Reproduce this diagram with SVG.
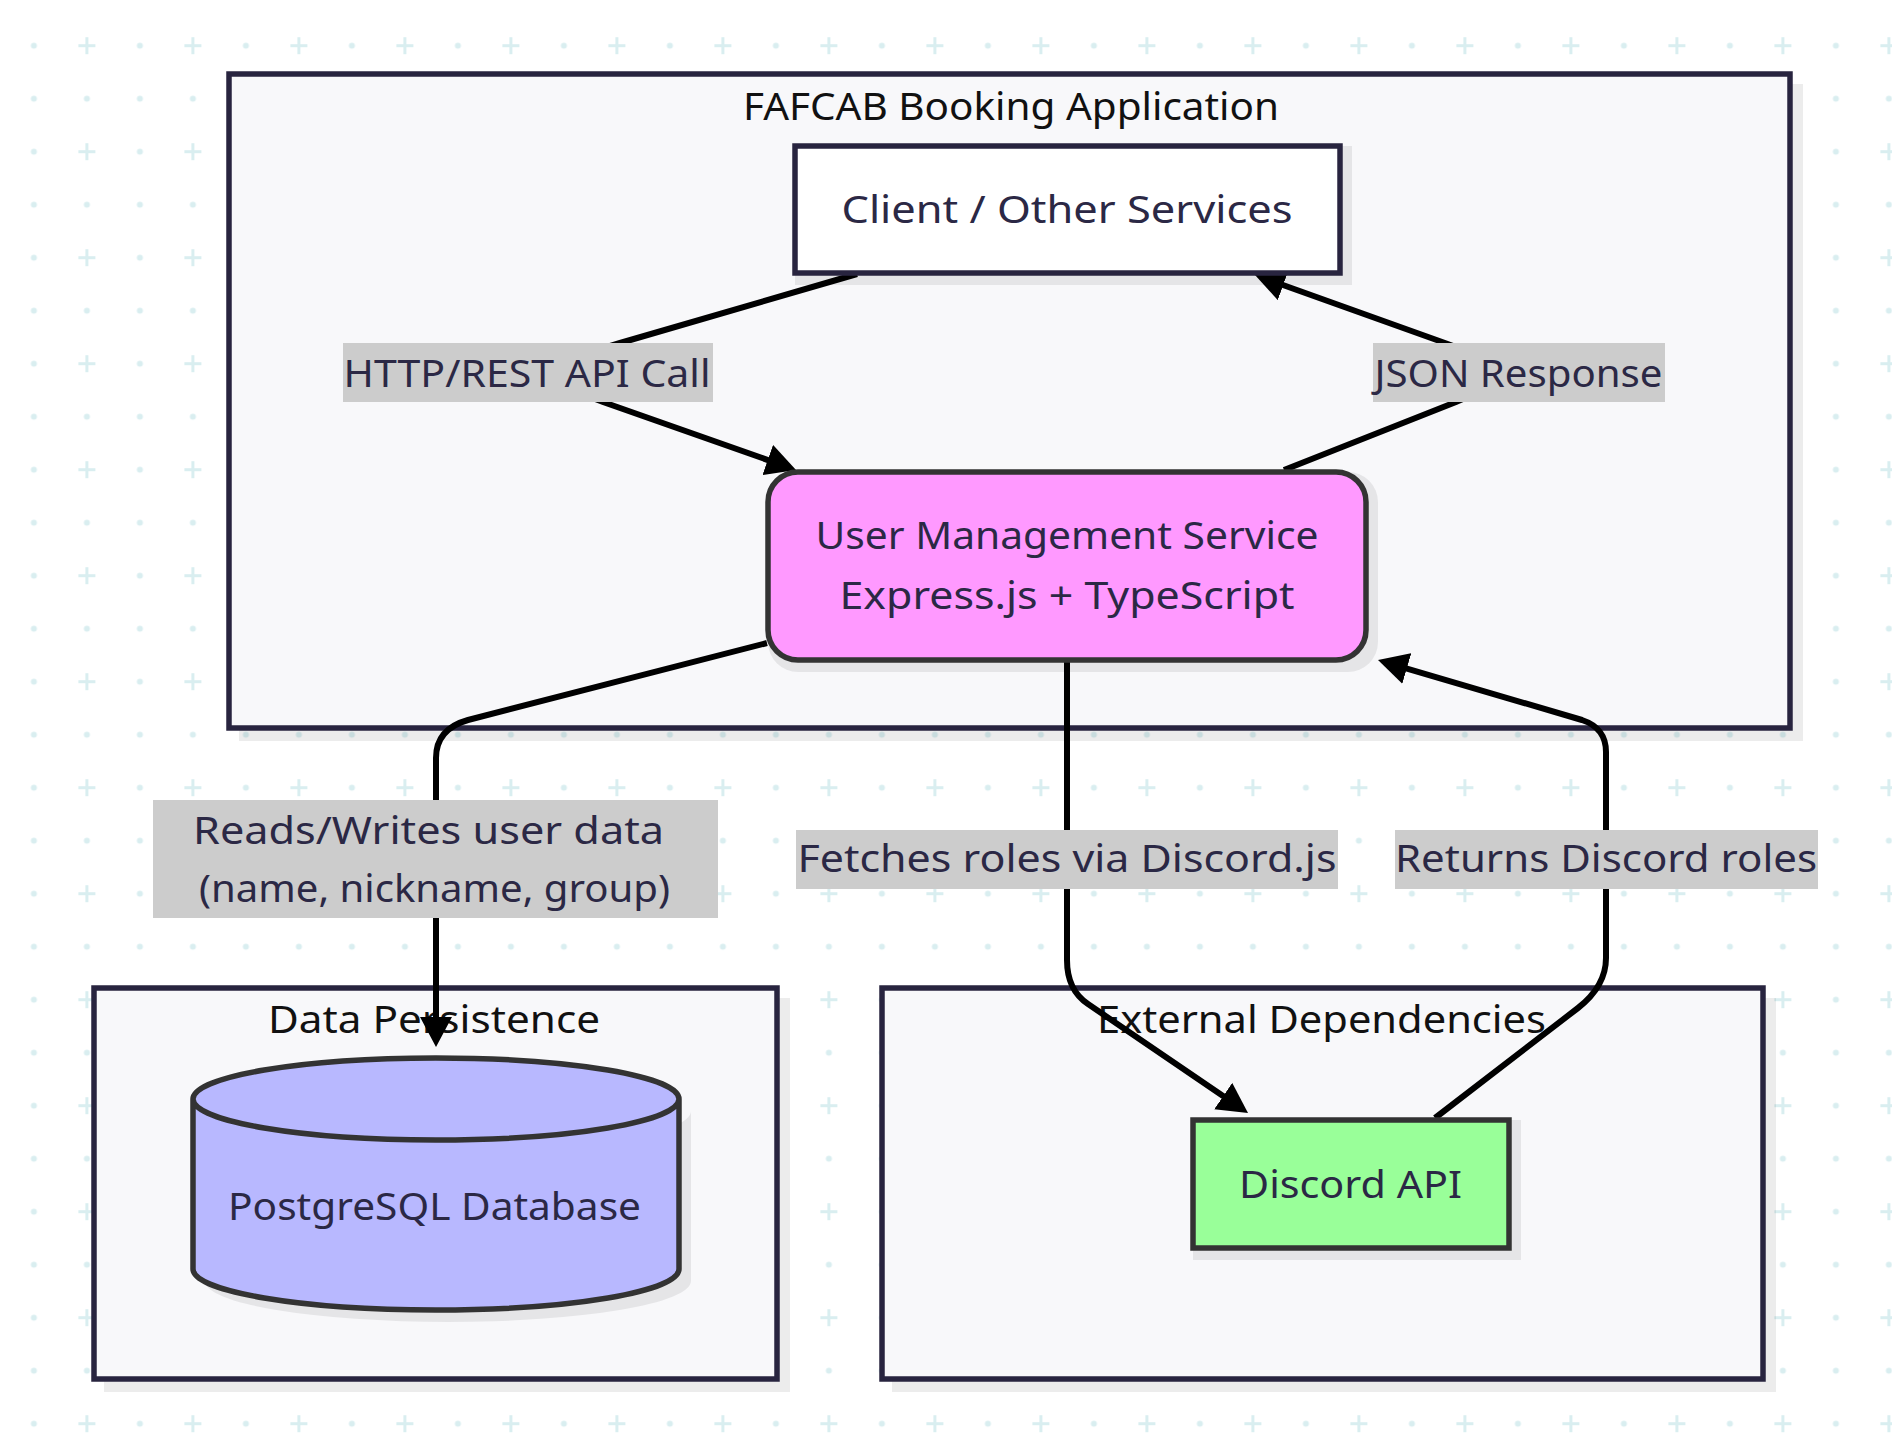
<svg xmlns="http://www.w3.org/2000/svg" width="1892" height="1438" viewBox="0 0 1892 1438">
<defs>
<style>
.cl{fill:#f8f8fa;stroke:#28243f;stroke-width:5.5}
.sh{fill:#000;fill-opacity:0.075}
.ct{font-family:"Noto Sans","DejaVu Sans",sans-serif;font-size:39px;fill:#111;text-anchor:middle}
.nt{font-family:"Noto Sans","DejaVu Sans",sans-serif;font-size:39px;fill:#2b2845;text-anchor:middle}
.nd{stroke:#333;stroke-width:5.5}
.edge{fill:none;stroke:#000;stroke-width:6;stroke-linejoin:round}
.lb{fill:#cccccc}
.gd{fill:#d9eef0}
.gp{stroke:#d9eef0;stroke-width:3;fill:none}
</style>
<marker id="arr" markerUnits="userSpaceOnUse" markerWidth="30" markerHeight="32" viewBox="0 0 30 32" refX="22" refY="16" orient="auto"><path d="M0,0 L30,16 L0,32 z" fill="#000"/></marker>
<pattern id="grid" x="7.4" y="19.2" width="106" height="106" patternUnits="userSpaceOnUse">
<circle class="gd" cx="26.5" cy="26.5" r="3"/>
<path class="gp" d="M71,26.5 H88 M79.5,18 V35"/>
<circle class="gd" cx="26.5" cy="79.5" r="3"/>
<circle class="gd" cx="79.5" cy="79.5" r="3"/>
</pattern>
</defs>
<rect x="0" y="0" width="1892" height="1438" fill="#fff"/>
<rect x="0" y="19.2" width="1892" height="1418.8" fill="url(#grid)"/>

<g id="cluster-fafcab">
<rect class="sh" x="239" y="84" width="1564" height="657"/>
<rect class="cl" x="229" y="74" width="1561" height="654"/>
<text class="ct" x="1011" y="120" textLength="536" lengthAdjust="spacingAndGlyphs">FAFCAB Booking Application</text>
</g>
<g id="cluster-data">
<rect class="sh" x="104" y="998" width="686" height="394"/>
<rect class="cl" x="94" y="988" width="683" height="391"/>
<text class="ct" x="434" y="1033" textLength="332" lengthAdjust="spacingAndGlyphs">Data Persistence</text>
</g>
<g id="cluster-external">
<rect class="sh" x="892" y="998" width="884" height="394"/>
<rect class="cl" x="882" y="988" width="881" height="391"/>
<text class="ct" x="1321.5" y="1033" textLength="449" lengthAdjust="spacingAndGlyphs">External Dependencies</text>
</g>

<g id="connectors">
<path class="edge" d="M857,274 L620,343 Q520,372 603,402 L788.5,467.3" marker-end="url(#arr)"/>
<path class="edge" d="M1284,470 L1456,402 Q1530,372 1445,343 L1262.5,277.7" marker-end="url(#arr)"/>
<path class="edge" d="M767,643 L468,720 Q436,729 436,758 L436,1039" marker-end="url(#arr)"/>
<path class="edge" d="M1067,660 L1067,960 Q1067,990 1088,1004 L1241.4,1108.5" marker-end="url(#arr)"/>
<path class="edge" d="M1435,1118 L1578,1008 Q1606,986 1606,958 L1606,752 Q1606,728 1582,720 L1385.7,662.3" marker-end="url(#arr)"/>
</g>

<g id="edge-labels">
<g id="label-http">
<rect class="lb" x="343" y="343" width="370" height="59"/>
<text class="nt" x="527" y="387" textLength="367" lengthAdjust="spacingAndGlyphs">HTTP/REST API Call</text>
</g>
<g id="label-json">
<rect class="lb" x="1373" y="343" width="292" height="59"/>
<text class="nt" x="1518.5" y="387" textLength="288" lengthAdjust="spacingAndGlyphs">JSON Response</text>
</g>
<g id="label-reads">
<rect class="lb" x="153" y="800" width="565" height="118"/>
<text class="nt" x="428.5" y="844" textLength="471" lengthAdjust="spacingAndGlyphs">Reads/Writes user data</text>
<text class="nt" x="434.5" y="902" textLength="471" lengthAdjust="spacingAndGlyphs">(name, nickname, group)</text>
</g>
<g id="label-fetches">
<rect class="lb" x="796" y="830" width="542" height="59"/>
<text class="nt" x="1067" y="872" textLength="539" lengthAdjust="spacingAndGlyphs">Fetches roles via Discord.js</text>
</g>
<g id="label-returns">
<rect class="lb" x="1395" y="830" width="423" height="59"/>
<text class="nt" x="1606" y="872" textLength="422" lengthAdjust="spacingAndGlyphs">Returns Discord roles</text>
</g>
</g>

<g id="node-client">
<rect class="sh" x="795" y="146" width="557" height="139"/>
<rect class="nd" x="795" y="146" width="545" height="127" fill="#ffffff" style="stroke:#28243f"/>
<text class="nt" x="1067" y="223" textLength="451" lengthAdjust="spacingAndGlyphs">Client / Other Services</text>
</g>
<g id="node-usermgmt">
<rect class="sh" x="768" y="472" width="610" height="200" rx="30"/>
<rect class="nd" x="768" y="472" width="598" height="188" rx="30" fill="#ff99ff"/>
<text class="nt" x="1067" y="549" textLength="503" lengthAdjust="spacingAndGlyphs">User Management Service</text>
<text class="nt" x="1067" y="609" textLength="455" lengthAdjust="spacingAndGlyphs">Express.js + TypeScript</text>
</g>
<g id="node-postgres">
<path class="sh" transform="translate(12,12)" d="M193,1099 A243,41 0 0,0 679,1099 L679,1269 A243,41 0 0,1 193,1269 Z"/>
<path class="nd" fill="#b8b8ff" d="M193,1099 A243,41 0 0,0 679,1099 A243,41 0 0,0 193,1099 L193,1269 A243,41 0 0,0 679,1269 L679,1099"/>
<text class="nt" x="434.5" y="1220" textLength="413" lengthAdjust="spacingAndGlyphs">PostgreSQL Database</text>
</g>
<g id="node-discord">
<rect class="sh" x="1193" y="1120" width="328" height="140"/>
<rect class="nd" x="1193" y="1120" width="316" height="128" fill="#99ff99"/>
<text class="nt" x="1350.5" y="1198" textLength="223" lengthAdjust="spacingAndGlyphs">Discord API</text>
</g>
</svg>
